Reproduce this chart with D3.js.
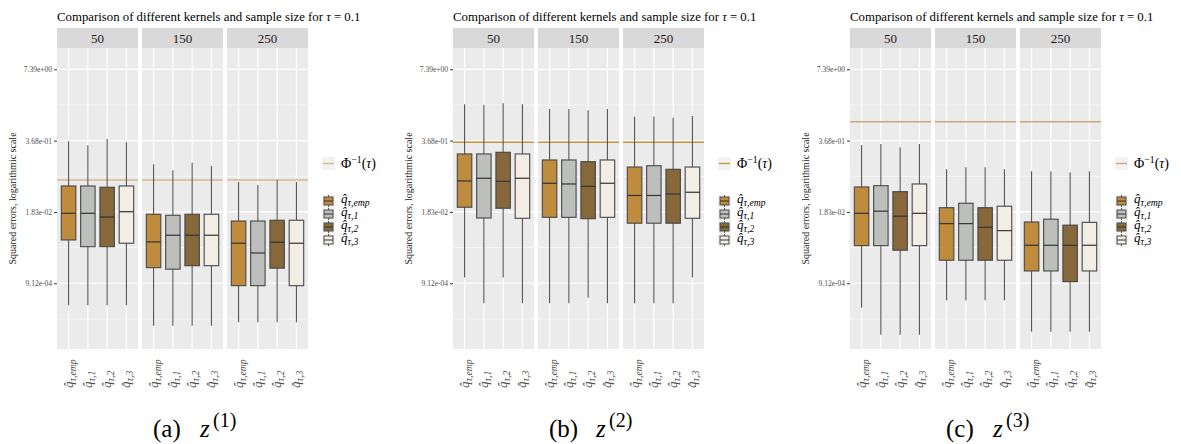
<!DOCTYPE html>
<html>
<head>
<meta charset="utf-8">
<script src="https://cdn.jsdelivr.net/npm/d3@7"></script>
<style>
  body { margin: 0; background: #fff; }
</style>
</head>
<body>
<svg id="fig" width="1181" height="444"></svg>
<script>
// sample sizes (facets) and estimators (boxes inside each facet)
const sizes = ["50", "150", "250"];
const estimators = ["emp", "1", "2", "3"];
const fillColors = ["#BF8C3D", "#BDBFBD", "#86683A", "#F2EEE6"];

const yTickVals = [9.12e-4, 1.83e-2, 3.68e-1, 7.39];
const yTickLabels = ["9.12e-04", "1.83e-02", "3.68e-01", "7.39e+00"];
const yMinorVals = [2.03e-4, 4.09e-3, 8.21e-2, 1.65];

// [lower whisker, q1, median, q3, upper whisker], facet 50 / 150 / 250, estimators emp,1,2,3
const boxesZ1 = [
  [3.62e-4, 5.64e-3, 1.73e-2, 5.46e-2, 0.358],
  [3.62e-4, 4.25e-3, 1.73e-2, 5.46e-2, 0.302],
  [3.62e-4, 4.25e-3, 1.48e-2, 5.17e-2, 0.394],
  [3.62e-4, 4.91e-3, 1.85e-2, 5.46e-2, 0.343],
  [1.53e-4, 1.76e-3, 5.19e-3, 1.66e-2, 0.136],
  [1.53e-4, 1.65e-3, 6.87e-3, 1.59e-2, 0.106],
  [1.53e-4, 1.91e-3, 6.87e-3, 1.66e-2, 0.145],
  [1.53e-4, 1.91e-3, 6.87e-3, 1.66e-2, 0.127],
  [1.77e-4, 8.25e-4, 4.91e-3, 1.25e-2, 0.0647],
  [1.77e-4, 8.25e-4, 3.26e-3, 1.25e-2, 0.057],
  [1.77e-4, 1.72e-3, 5.12e-3, 1.29e-2, 0.0703],
  [1.77e-4, 8.25e-4, 4.91e-3, 1.29e-2, 0.0647]
];
const boxesZ2 = [
  [1.16e-3, 2.23e-2, 6.74e-2, 0.21, 1.7],
  [3.93e-4, 1.42e-2, 7.55e-2, 0.21, 1.65],
  [1.16e-3, 2.14e-2, 6.65e-2, 0.225, 1.77],
  [3.93e-4, 1.4e-2, 7.55e-2, 0.21, 1.7],
  [3.93e-4, 1.46e-2, 6.12e-2, 0.163, 1.39],
  [3.93e-4, 1.46e-2, 5.94e-2, 0.163, 1.39],
  [4.98e-4, 1.38e-2, 5.39e-2, 0.152, 1.32],
  [3.93e-4, 1.46e-2, 6.12e-2, 0.163, 1.39],
  [3.93e-4, 1.14e-2, 3.66e-2, 0.121, 1.01],
  [3.93e-4, 1.14e-2, 3.66e-2, 0.128, 1.01],
  [3.93e-4, 1.14e-2, 3.9e-2, 0.11, 0.966],
  [1.16e-3, 1.4e-2, 4.19e-2, 0.121, 1.04]
];
const boxesZ3 = [
  [3.27e-4, 4.44e-3, 1.73e-2, 5.24e-2, 0.302],
  [1.04e-4, 4.44e-3, 1.89e-2, 5.53e-2, 0.32],
  [1.04e-4, 3.66e-3, 1.53e-2, 4.3e-2, 0.278],
  [1.04e-4, 4.44e-3, 1.73e-2, 5.94e-2, 0.32],
  [4.47e-4, 2.4e-3, 1.12e-2, 2.19e-2, 0.11],
  [4.47e-4, 2.4e-3, 1.12e-2, 2.64e-2, 0.12],
  [4.47e-4, 2.4e-3, 9.62e-3, 2.19e-2, 0.12],
  [4.47e-4, 2.4e-3, 8.34e-3, 2.33e-2, 0.11],
  [1.19e-4, 1.53e-3, 4.51e-3, 1.2e-2, 0.101],
  [1.19e-4, 1.53e-3, 4.51e-3, 1.35e-2, 0.101],
  [1.19e-4, 9.76e-4, 4.51e-3, 1.05e-2, 0.0972],
  [1.19e-4, 1.53e-3, 4.51e-3, 1.18e-2, 0.101]
];
// Phi^{-1}(tau) reference line per subfigure
const phiValues = [0.0703, 0.343, 0.816];

const panels = [
  { x0: 57, boxes: boxesZ1, phi: phiValues[0], phiColor: "#D6B88C", tag: "(a)", sup: "(1)" },
  { x0: 453, boxes: boxesZ2, phi: phiValues[1], phiColor: "#C89643", tag: "(b)", sup: "(2)" },
  { x0: 850, boxes: boxesZ3, phi: phiValues[2], phiColor: "#C9A777", tag: "(c)", sup: "(3)" }
];

const serif = '"Liberation Serif", "Times New Roman", serif';
const svg = d3.select("#fig").style("font-family", serif);
const yTop = 48, yBottom = 349, stripTop = 28;
const facetW = 81, gap = 4;

const y = d3.scaleLog().base(Math.E).domain([5.74e-5, 18.1]).range([yBottom, yTop]);

function qLabel(t, est) {
  t.append("tspan").attr("font-style", "italic").text("q\u0302");
  t.append("tspan").attr("font-size", "0.75em").attr("dy", "0.3em")
    .attr("font-style", "italic").text("\u03C4," + est);
}

function drawPanel(p) {
  const g = svg.append("g").style("font-family", serif);
  const fx = d3.scaleBand().domain(sizes)
    .range([p.x0, p.x0 + 3 * facetW + 2 * gap])
    .paddingInner(gap / (facetW + gap));
  const x = d3.scalePoint().domain(estimators).range([0, fx.bandwidth()]).padding(0.6);
  const bw = x.step() * 0.75;
  const right = p.x0 + 3 * facetW + 2 * gap;

  // title
  const title = g.append("text")
    .attr("x", p.x0)
    .attr("y", 21)
    .style("font-size", "12.8px");
  title.append("tspan").text("Comparison of different kernels and sample size for ");
  title.append("tspan").attr("font-style", "italic").text("\u03C4");
  title.append("tspan").text(" = 0.1");

  sizes.forEach((s, si) => {
    const fg = g.append("g").attr("transform", `translate(${fx(s)},0)`);
    fg.append("rect").attr("x", 0).attr("y", stripTop)
      .attr("width", fx.bandwidth()).attr("height", yTop - stripTop).attr("fill", "#D9D9D9");
    fg.append("text").attr("x", fx.bandwidth() / 2).attr("y", 43)
      .attr("text-anchor", "middle").style("font-size", "13px").attr("fill", "#1a1a1a").text(s);
    fg.append("rect").attr("x", 0).attr("y", yTop)
      .attr("width", fx.bandwidth()).attr("height", yBottom - yTop).attr("fill", "#EBEBEB");

    fg.selectAll(".minor").data(yMinorVals).join("line")
      .attr("x1", 0).attr("x2", fx.bandwidth())
      .attr("y1", (d) => y(d)).attr("y2", (d) => y(d))
      .attr("stroke", "#fff").attr("stroke-width", 0.6);
    fg.selectAll(".major").data(yTickVals).join("line")
      .attr("x1", 0).attr("x2", fx.bandwidth())
      .attr("y1", (d) => y(d)).attr("y2", (d) => y(d))
      .attr("stroke", "#fff").attr("stroke-width", 1.2);
    fg.selectAll(".vgrid").data(estimators).join("line")
      .attr("x1", (d) => x(d)).attr("x2", (d) => x(d))
      .attr("y1", yTop).attr("y2", yBottom)
      .attr("stroke", "#fff").attr("stroke-width", 1.2);

    // Phi line
    fg.append("line")
      .attr("x1", 0).attr("x2", fx.bandwidth())
      .attr("y1", y(p.phi)).attr("y2", y(p.phi))
      .attr("stroke", p.phiColor).attr("stroke-width", 1.4);

    estimators.forEach((e, ei) => {
      const b = p.boxes[si * 4 + ei];
      const cx = x(e);
      fg.append("line")
        .attr("x1", cx).attr("x2", cx)
        .attr("y1", y(b[0])).attr("y2", y(b[4]))
        .attr("stroke", "#555").attr("stroke-width", 1.1);
      fg.append("rect")
        .attr("x", cx - bw / 2).attr("width", bw)
        .attr("y", y(b[3])).attr("height", y(b[1]) - y(b[3]))
        .attr("fill", fillColors[ei])
        .attr("stroke", "#444").attr("stroke-opacity", 0.9).attr("stroke-width", 1.2);
      fg.append("line")
        .attr("x1", cx - bw / 2).attr("x2", cx + bw / 2)
        .attr("y1", y(b[2])).attr("y2", y(b[2]))
        .attr("stroke", "#333").attr("stroke-width", 1.2);

      const t = fg.append("text")
        .attr("transform", `translate(${cx + 4},388) rotate(-90)`)
        .style("font-size", "13px").attr("fill", "#4d4d4d");
      qLabel(t, e);
    });
  });

  // y axis
  const ax = g.append("g").attr("transform", `translate(${p.x0},0)`)
    .call(d3.axisLeft(y).tickValues(yTickVals).tickFormat((d, i) => yTickLabels[i]).tickSize(3).tickPadding(2));
  ax.select(".domain").remove();
  ax.selectAll(".tick line").attr("stroke", "#333");
  ax.selectAll(".tick text").attr("fill", "#4d4d4d")
    .style("font-size", "7.5px").style("font-family", serif);

  g.append("text")
    .attr("transform", `translate(${p.x0 - 41},${(yTop + yBottom) / 2}) rotate(-90)`)
    .attr("text-anchor", "middle").style("font-size", "10px").attr("fill", "#1a1a1a")
    .text("Squared errors, logarithmic scale");

  // legend
  const lx = right + 15;
  const lg = g.append("g");
  lg.append("rect").attr("x", lx - 1).attr("y", 157).attr("width", 13).attr("height", 13).attr("fill", "#F2F2F2");
  lg.append("line").attr("x1", lx).attr("x2", lx + 11).attr("y1", 163.5).attr("y2", 163.5)
    .attr("stroke", p.phiColor).attr("stroke-width", 1.4);
  const pt = lg.append("text").attr("x", lx + 18).attr("y", 168).style("font-size", "14px");
  pt.append("tspan").text("\u03A6");
  pt.append("tspan").attr("font-size", "0.7em").attr("dy", "-0.55em").text("\u22121");
  pt.append("tspan").attr("dy", "0.38em").text("(");
  pt.append("tspan").attr("font-style", "italic").text("\u03C4");
  pt.append("tspan").text(")");

  estimators.forEach((e, ei) => {
    const ry = 201 + ei * 13;
    lg.append("rect").attr("x", lx - 1).attr("y", ry - 6.5).attr("width", 13).attr("height", 13).attr("fill", "#F2F2F2");
    lg.append("line").attr("x1", lx + 5.5).attr("x2", lx + 5.5).attr("y1", ry - 6).attr("y2", ry + 6)
      .attr("stroke", "#555").attr("stroke-width", 1);
    lg.append("rect").attr("x", lx + 1).attr("y", ry - 4).attr("width", 9).attr("height", 8)
      .attr("fill", fillColors[ei]).attr("stroke", "#4d4d4d").attr("stroke-width", 1);
    lg.append("line").attr("x1", lx + 1).attr("x2", lx + 10).attr("y1", ry).attr("y2", ry)
      .attr("stroke", "#333").attr("stroke-width", 1);
    const t = lg.append("text").attr("x", lx + 18).attr("y", ry + 2).style("font-size", "13px");
    qLabel(t, e);
  });

  // caption
  const cap = g.append("text").attr("y", 437).style("font-size", "25px");
  cap.append("tspan").attr("x", p.x0 + 96).text(p.tag);
  cap.append("tspan").attr("x", p.x0 + 143).attr("font-style", "italic").text("z");
  cap.append("tspan").attr("x", p.x0 + 156).attr("font-size", "20px").attr("dy", "-10").text(p.sup);
}

panels.forEach(drawPanel);
</script>
</body>
</html>
